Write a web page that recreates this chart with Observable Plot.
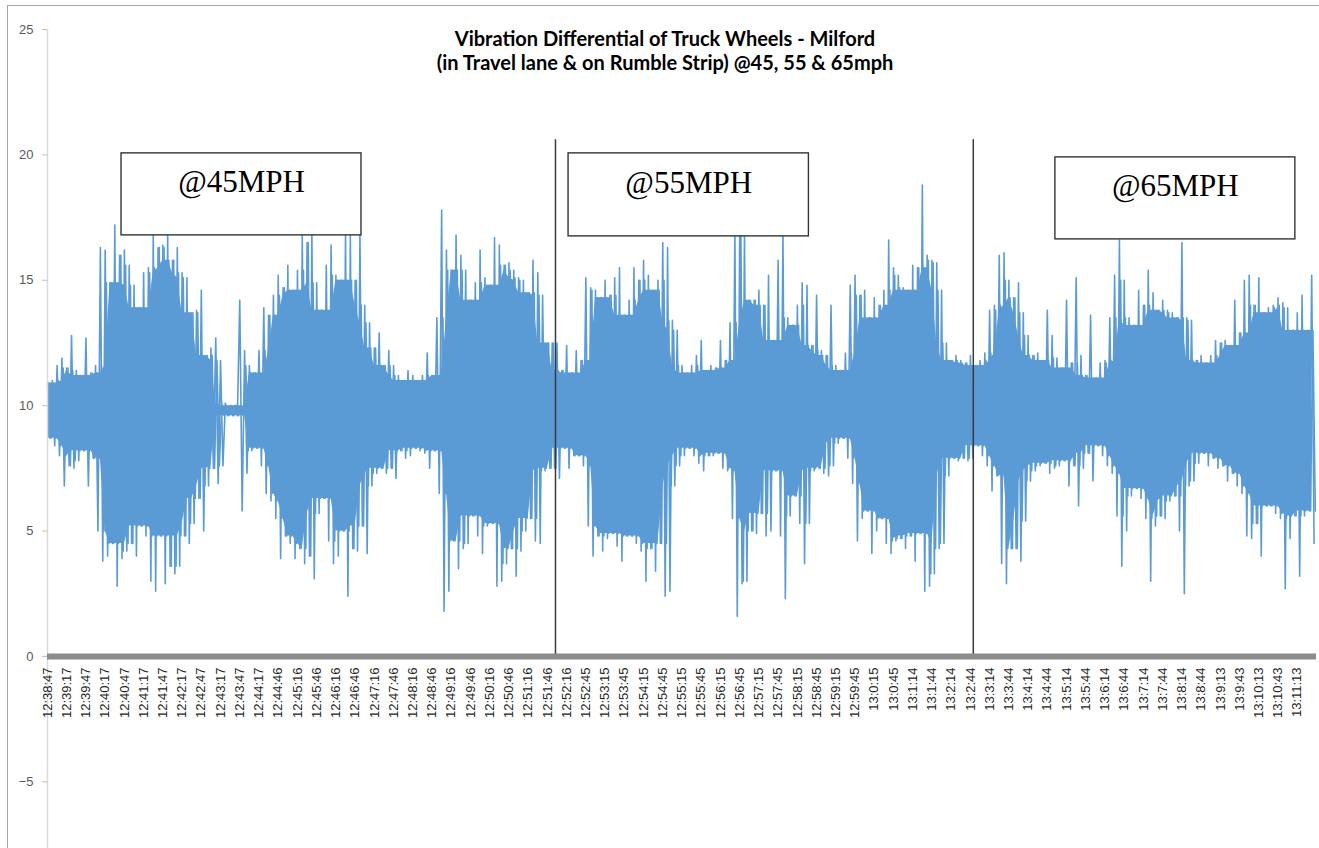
<!DOCTYPE html>
<html>
<head>
<meta charset="utf-8">
<script src="https://cdn.jsdelivr.net/npm/d3@7"></script>
<script src="https://cdn.jsdelivr.net/npm/@observablehq/plot@0.6"></script>
<style>
  body { margin: 0; background: #fff; }
  #wrap { position: relative; width: 1319px; height: 848px; overflow: hidden; background: #fff; }
  #frame { position: absolute; left: 7px; top: 5px; width: 1400px; height: 900px; border-top: 1px solid #a6a6a6; border-left: 1px solid #a6a6a6; pointer-events: none; }
  #title { position: absolute; left: 0; top: 26px; width: 1330px; text-align: center; font: bold 20px Lato, "Liberation Sans", sans-serif; color: #000; line-height: 24px; }
  #chart { position: absolute; left: 0; top: 0; }
</style>
</head>
<body>
<div id="wrap">
  <div id="chart"></div>
  <div id="frame"></div>
  <div id="title">Vibration Differential of Truck Wheels - Milford<br>(in Travel lane &amp; on Rumble Strip) @45, 55 &amp; 65mph</div>
</div>
<script>
// Category labels on the x axis (one every ~30 s)
const timeLabels = ["12:38:47","12:39:17","12:39:47","12:40:17","12:40:47","12:41:17","12:41:47","12:42:17","12:42:47","12:43:17","12:43:47","12:44:17","12:44:46","12:45:16","12:45:46","12:46:16","12:46:46","12:47:16","12:47:46","12:48:16","12:48:46","12:49:16","12:49:46","12:50:16","12:50:46","12:51:16","12:51:46","12:52:16","12:52:45","12:53:15","12:53:45","12:54:15","12:54:45","12:55:15","12:55:45","12:56:15","12:56:45","12:57:15","12:57:45","12:58:15","12:58:45","12:59:15","12:59:45","13:0:15","13:0:45","13:1:14","13:1:44","13:2:14","13:2:44","13:3:14","13:3:44","13:4:14","13:4:44","13:5:14","13:5:44","13:6:14","13:6:44","13:7:14","13:7:44","13:8:14","13:8:44","13:9:13","13:9:43","13:10:13","13:10:43","13:11:13"];

const yTicks = [-5, 0, 5, 10, 15, 20, 25];

// Signal: peak high and peak low per sample (sample step = 1/4 of a label interval)
const sampleStep = 0.25;
const peakHigh = [
  10.9,11.0,11.6,11.9,11.5,12.8,11.4,11.2,12.7,11.3,11.6,16.3,16.2,14.9,17.2,16.0,16.2,15.6,14.8,13.9,15.3,15.5,16.8,16.3,16.4,16.8,15.8,16.3,15.3,15.1,13.7,13.8,14.6,12.0,12.3,12.7,11.8,10.1,10.0,10.0,14.2,12.2,11.6,11.3,12.2,13.9,13.6,14.4,15.2,14.7,15.6,14.6,15.4,16.8,16.5,16.9,14.9,13.8,15.6,16.4,15.2,15.0,16.8,16.8,15.0,16.8,14.0,
  13.3,12.3,12.9,11.6,12.2,11.6,11.2,11.0,11.4,11.2,11.0,11.2,12.1,11.2,13.5,17.8,16.2,15.4,16.8,16.0,15.4,14.2,14.9,16.2,15.1,14.8,16.7,16.4,15.6,15.7,15.4,15.1,15.0,14.5,15.8,15.3,14.4,12.5,12.5,12.5,11.4,12.4,11.3,12.2,11.8,15.1,14.7,14.6,14.3,15.0,14.4,15.1,15.5,13.6,14.2,15.5,15.0,15.8,15.2,14.6,15.0,16.5,16.3,13.4,13.0,11.6,11.3,
  11.6,12.0,12.6,11.4,11.6,11.5,12.6,11.8,13.3,16.9,16.9,16.9,14.2,14.2,14.6,14.0,15.2,12.6,15.8,16.9,13.5,13.2,14.0,14.9,14.8,12.4,14.4,12.2,12.0,14.0,11.6,11.4,12.1,14.8,15.2,14.4,14.6,13.5,14.3,14.0,14.6,16.6,15.5,15.2,14.7,14.6,15.6,15.5,18.8,16.0,15.8,15.7,14.6,12.5,11.8,12.0,11.8,11.7,12.0,11.6,11.8,12.1,13.8,14.0,16.0,16.1,15.0,
  14.3,14.9,13.7,12.8,12.0,12.1,11.8,13.8,12.8,11.9,11.5,14.2,11.7,15.1,12.0,11.2,13.6,11.1,11.7,11.8,13.5,15.2,16.6,15.0,13.5,13.2,14.6,14.0,15.4,14.5,13.8,14.2,13.8,13.7,13.5,16.5,13.5,13.4,11.8,12.0,11.7,12.0,12.6,12.5,12.6,12.4,14.2,12.9,15.0,15.2,14.0,15.1,13.7,13.9,14.0,14.3,14.1,13.9,13.0,13.7,14.4,13.0,15.2
];
const peakLow = [
  8.7,8.4,8.0,6.8,7.6,7.5,7.8,8.2,6.8,7.9,5.0,3.8,4.0,4.5,2.8,3.9,4.2,4.5,4.0,5.2,4.8,3.0,2.6,4.8,2.9,3.6,3.3,3.6,4.8,4.5,5.3,6.3,5.0,6.8,7.5,6.9,7.6,9.6,9.6,9.6,5.8,7.3,8.2,8.3,7.6,6.5,6.2,5.5,3.9,4.8,4.5,3.9,4.3,3.7,4.0,3.1,5.7,6.3,4.6,3.7,4.0,5.0,2.4,4.3,4.2,5.2,4.1,
  6.8,7.3,7.5,7.3,7.5,7.1,8.2,7.9,8.0,8.3,8.2,8.1,7.5,8.2,6.5,1.8,2.6,4.6,3.5,4.3,4.5,5.6,4.8,4.1,5.2,5.3,2.8,3.0,3.7,4.3,3.2,4.2,5.0,5.5,4.6,4.5,7.4,7.5,7.5,7.1,8.3,7.5,8.0,8.0,7.6,5.2,4.0,4.8,4.2,4.7,4.9,4.4,3.8,4.8,4.8,4.5,4.2,3.0,4.3,3.4,4.5,2.4,2.6,6.8,7.6,8.0,8.3,
  8.0,7.7,7.4,8.0,8.0,8.1,7.5,7.4,5.5,1.6,2.9,3.0,5.0,4.9,5.7,4.8,5.0,7.4,4.8,2.3,5.6,6.4,5.3,3.7,5.3,7.4,7.5,7.3,7.2,7.6,8.5,8.7,7.9,6.9,4.6,5.5,5.8,4.1,5.0,5.5,4.5,4.1,4.6,4.7,4.3,4.8,3.8,4.9,2.6,2.8,3.3,4.3,4.5,7.2,7.9,7.8,7.9,7.8,7.9,8.4,8.0,7.6,6.6,7.2,3.7,2.9,4.3,
  4.3,3.8,5.4,7.0,7.4,7.6,7.7,7.3,7.5,7.6,7.8,6.8,7.6,6.0,7.5,8.1,7.0,8.4,8.0,7.6,7.3,5.6,3.6,5.0,6.4,6.7,6.3,5.5,3.0,5.2,5.6,5.5,6.2,6.4,5.0,2.5,6.8,7.0,7.7,8.1,7.6,7.9,7.5,7.6,7.0,7.3,6.8,6.5,4.8,4.7,5.3,4.0,6.0,6.0,5.7,5.5,2.7,4.7,5.6,3.2,5.6,5.8,4.5
];

// Speed section dividers (in label-interval units) and annotation boxes
const dividerPositions = [26.42, 48.15];
const speedLabels = ["@45MPH", "@55MPH", "@65MPH"];
const boxLeft   = [3.85, 27.10, 52.42];
const boxRight  = [16.33, 39.60, 64.90];
const boxTop    = [20.06, 20.06, 19.90];
const boxBottom = [16.79, 16.75, 16.63];
const labelY    = [18.90, 18.88, 18.74];

// Build tables for the library
const samples = peakHigh.map((h, i) => ({x: i * sampleStep, hi: h, lo: peakLow[i]}));
// trace A: every read peak (high then low) in turn
const traceA = [];
samples.forEach(s => {
  traceA.push({x: s.x, y: s.hi});
  traceA.push({x: s.x + sampleStep / 2, y: s.lo});
});
// trace B: the smaller oscillations in between (rolling min of highs / max of lows over 3 read peaks)
const traceB = [];
samples.forEach((s, i) => {
  const a = Math.max(0, i - 1), b = Math.min(peakHigh.length, i + 2);
  traceB.push({x: s.x + sampleStep / 4, y: d3.min(peakHigh.slice(a, b))});
  traceB.push({x: s.x + 3 * sampleStep / 4, y: d3.max(peakLow.slice(a, b))});
});
const boxes = speedLabels.map((label, i) => ({
  label, x1: boxLeft[i], x2: boxRight[i], y1: boxBottom[i], y2: boxTop[i], ty: labelY[i]
}));
const xTicks = timeLabels.map((t, i) => ({pos: i, label: t}));

const blue = "#5b9bd5";
const yMin = -7.66, yMax = 25;

// dense core of the signal: sustained envelope over 5 read peaks
let coreMarks;
if (typeof Plot.window === "function" && typeof Plot.map === "function") {
  coreMarks = [Plot.areaY(samples, Plot.map(
    {y1: Plot.window({k: 5, reduce: "max"}), y2: Plot.window({k: 5, reduce: "min"})},
    {x: "x", y1: "lo", y2: "hi", fill: blue}))];
} else {
  coreMarks = [
    Plot.areaY(samples, Plot.windowY({k: 5, reduce: "min"}, {x: "x", y: "hi", fill: blue})),
    Plot.areaY(samples, Plot.windowY({k: 5, reduce: "max"}, {x: "x", y: "lo", fill: "white"}))
  ];
}

const chart = Plot.plot({
  width: 1319,
  height: 848,
  marginLeft: 47,
  marginRight: 3,
  marginTop: 29,
  marginBottom: 0,
  style: {fontFamily: "'Liberation Sans', Arial, sans-serif", background: "transparent"},
  x: {domain: [0, 66], axis: null},
  y: {domain: [yMin, yMax], axis: null},
  marks: [
    ...coreMarks,
    Plot.line(traceB, {x: "x", y: "y", stroke: blue, strokeWidth: 1.6}),
    Plot.line(traceA, {x: "x", y: "y", stroke: blue, strokeWidth: 1.6}),
    Plot.ruleX([0], {y1: yMin, y2: yMax, stroke: "#d9d9d9", strokeWidth: 1.5}),
    Plot.axisY(yTicks, {tickSize: 5, tickPadding: 9, stroke: "#bfbfbf", fill: "#595959", fontSize: 13, label: null}),
    Plot.rect(boxes, {x1: "x1", x2: "x2", y1: "y1", y2: "y2", fill: "white", stroke: "#333", strokeWidth: 1.4}),
    Plot.text(boxes, {x: d => (d.x1 + d.x2) / 2, y: "ty", text: "label", fontFamily: "'Liberation Serif', 'Times New Roman', serif", fontSize: 31, fill: "#000"}),
    Plot.ruleX(dividerPositions, {y1: 0, y2: 20.6, stroke: "#3a3a3a", strokeWidth: 1.5}),
    Plot.ruleY([0], {x1: 0, x2: 66, stroke: "#8c8c8c", strokeWidth: 6}),
    Plot.text(xTicks, {x: "pos", y: 0, text: "label", rotate: -90, textAnchor: "end", dy: 11, fontSize: 13, fill: "#262626"})
  ]
});
document.getElementById("chart").appendChild(chart);
</script>
</body>
</html>
